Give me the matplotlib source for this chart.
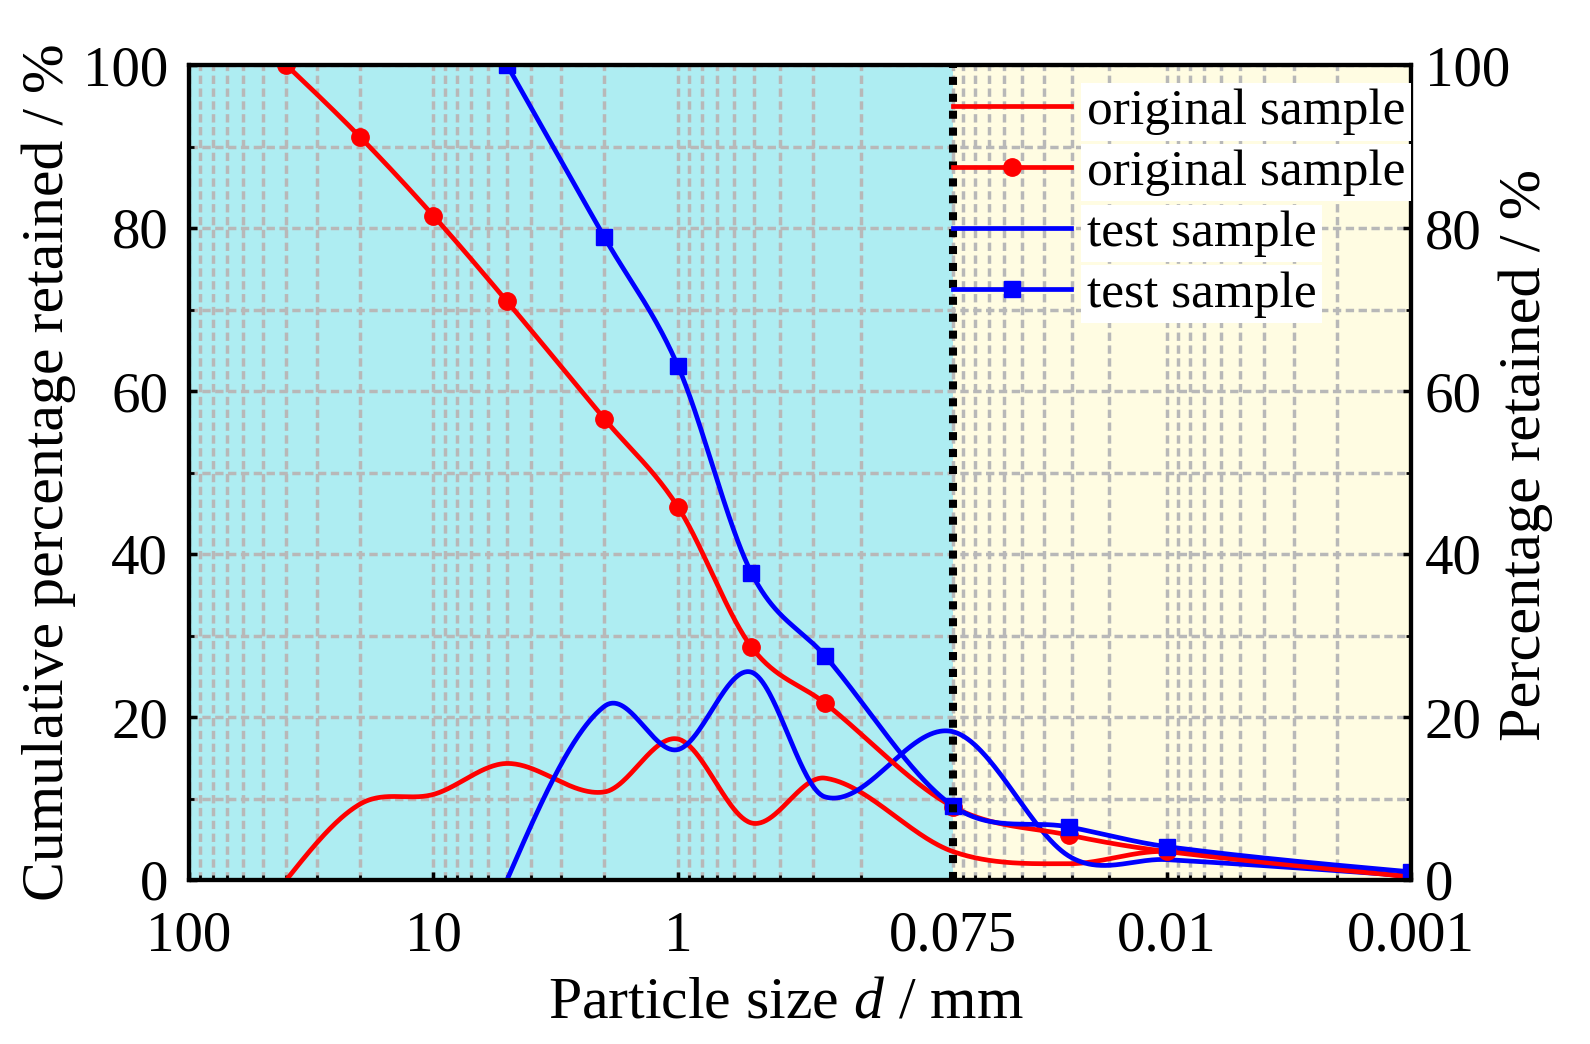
import numpy as np
import matplotlib
matplotlib.use('Agg')
import matplotlib.pyplot as plt
from matplotlib.ticker import FixedLocator, FixedFormatter, NullFormatter
from matplotlib.lines import Line2D

plt.rcParams['font.family'] = ['Liberation Serif', 'DejaVu Serif']
plt.rcParams['mathtext.fontset'] = 'custom'
plt.rcParams['mathtext.rm'] = 'Liberation Serif'
plt.rcParams['mathtext.it'] = 'Liberation Serif:italic'

# ---------------- data ----------------
orig_size = [40, 20, 10, 5, 2, 1, 0.5, 0.25, 0.075, 0.025, 0.01, 0.001]
orig_cum = [100, 91.2, 81.5, 71.0, 56.6, 45.8, 28.6, 21.7, 9.0, 5.5, 3.5, 0.4]
orig_pct = [0, 9.3, 10.5, 14.3, 10.8, 17.3, 7.0, 12.5, 3.5, 2.0, 3.5, 0.3]

test_size = [5, 2, 1, 0.5, 0.25, 0.075, 0.025, 0.01, 0.001]
test_cum = [100, 78.9, 63.1, 37.7, 27.5, 9.1, 6.5, 4.1, 1.0]
test_pct = [0, 21.3, 16.0, 25.5, 10.2, 18.2, 2.9, 2.5, 0.5]

x_major = [100, 10, 1, 0.075, 0.01, 0.001]
x_major_labels = ['100', '10', '1', '0.075', '0.01', '0.001']
y_ticks = [0, 20, 40, 60, 80, 100]
y_minor = [10, 30, 50, 70, 90]
legend_labels = ['original sample', 'original sample', 'test sample', 'test sample']


def spline_curve(t, y, tt):
    """Cubic Hermite (Catmull-Rom style) curve through the points."""
    t = np.asarray(t, float)
    y = np.asarray(y, float)
    n = len(t)
    m = np.zeros(n)
    for i in range(1, n - 1):
        m[i] = (y[i + 1] - y[i - 1]) / (t[i + 1] - t[i - 1])
    m[0] = 1.5 * (y[1] - y[0]) / (t[1] - t[0]) - 0.5 * m[1]
    m[-1] = 1.5 * (y[-1] - y[-2]) / (t[-1] - t[-2]) - 0.5 * m[-2]
    idx = np.clip(np.searchsorted(t, tt) - 1, 0, n - 2)
    h = t[idx + 1] - t[idx]
    s = (tt - t[idx]) / h
    h00 = 2 * s ** 3 - 3 * s ** 2 + 1
    h10 = s ** 3 - 2 * s ** 2 + s
    h01 = -2 * s ** 3 + 3 * s ** 2
    h11 = s ** 3 - s ** 2
    return h00 * y[idx] + h10 * h * m[idx] + h01 * y[idx + 1] + h11 * h * m[idx + 1]


def smooth(sizes, vals):
    t = -np.log10(np.asarray(sizes, float))
    tt = np.linspace(t[0], t[-1], 800)
    return 10 ** (-tt), spline_curve(t, vals, tt)


# ---------------- figure ----------------
fig = plt.figure(figsize=(15.9, 10.44), dpi=100)
ax = fig.add_axes([189 / 1590, 1 - 880 / 1044, 1222 / 1590, 815 / 1044])
ax.set_xscale('log')
ax.set_xlim(100, 0.001)
ax.set_ylim(0, 100)

cyan = '#aeedf2'
yellow = '#fffce2'
ax.axvspan(100, 0.075, facecolor=cyan, edgecolor='none', zorder=0)
ax.axvspan(0.075, 0.001, facecolor=yellow, edgecolor='none', zorder=0)

# ticks
minors = []
for a, b in zip(x_major[:-1], x_major[1:]):
    for k in range(1, 9):
        minors.append(b + k * (a - b) / 9)
ax.xaxis.set_major_locator(FixedLocator(x_major))
ax.xaxis.set_major_formatter(FixedFormatter(x_major_labels))
ax.xaxis.set_minor_locator(FixedLocator(minors))
ax.xaxis.set_minor_formatter(NullFormatter())
ax.yaxis.set_major_locator(FixedLocator(y_ticks))
ax.yaxis.set_minor_locator(FixedLocator(y_minor))

ax.set_axisbelow(True)
ax.grid(which='both', color='#b8b8b8', linestyle=(0, (2.4, 1.3)), linewidth=2.5)

ax.tick_params(axis='x', which='major', direction='in', length=6, width=2.5,
               labelsize=41, pad=22, top=False)
ax.tick_params(axis='x', which='minor', direction='in', length=3.5, width=2, top=False)
ax.tick_params(axis='y', which='major', direction='in', length=6, width=2.5,
               labelsize=41, pad=15, right=False)
ax.tick_params(axis='y', which='minor', direction='in', length=3.5, width=2, right=False)

for s in ax.spines.values():
    s.set_linewidth(3)

# curves
red = '#ff0000'
blue = '#0000ff'
lw = 3.4
xs, ys = smooth(orig_size, orig_pct)
ax.plot(xs, ys, color=red, lw=lw, zorder=3)
xs, ys = smooth(test_size, test_pct)
ax.plot(xs, ys, color=blue, lw=lw, zorder=3)
xs, ys = smooth(orig_size, orig_cum)
ax.plot(xs, ys, color=red, lw=lw, zorder=3)
ax.plot(orig_size, orig_cum, 'o', color=red, ms=12.5, zorder=4)
xs, ys = smooth(test_size, test_cum)
ax.plot(xs, ys, color=blue, lw=lw, zorder=3)
ax.plot(test_size, test_cum, 's', color=blue, ms=11.5, zorder=4)

ax.axvline(0.075, color='black', lw=5.8, linestyle=(0, (1, 1.1)),
           dash_capstyle='butt', zorder=6)

# right axis
ax2 = ax.twinx()
ax2.set_ylim(0, 100)
ax2.yaxis.set_major_locator(FixedLocator(y_ticks))
ax2.yaxis.set_minor_locator(FixedLocator(y_minor))
ax2.tick_params(axis='y', which='major', direction='in', length=6, width=2.5,
                labelsize=41, pad=10)
ax2.tick_params(axis='y', which='minor', direction='in', length=3.5, width=2)
for s in ax2.spines.values():
    s.set_linewidth(3)

# labels
ax.text(-0.1146, 0.5, 'Cumulative percentage retained / %', transform=ax.transAxes,
        rotation=90, ha='center', va='center', fontsize=43)
ax.text(1.094, 0.522, 'Percentage retained / %', transform=ax.transAxes,
        rotation=90, ha='center', va='center', fontsize=43.5)
ax.text(0.4885, -0.152, 'Particle size $d$ / mm', transform=ax.transAxes,
        ha='center', va='center', fontsize=43)

# legend
handles = [
    Line2D([], [], color=red, lw=lw),
    Line2D([], [], color=red, lw=lw, marker='o', ms=12.5),
    Line2D([], [], color=blue, lw=lw),
    Line2D([], [], color=blue, lw=lw, marker='s', ms=11.5),
]
leg = ax2.legend(handles, legend_labels, loc='upper left',
                 bbox_to_anchor=((953 - 189) / 1222, (880 - 88) / 815),
                 frameon=False, fontsize=37, borderpad=0, borderaxespad=0,
                 handlelength=2.3, handletextpad=0.3, labelspacing=0.27)
leg.set_zorder(10)
for t in leg.get_texts():
    t.set_bbox(dict(facecolor='white', edgecolor='none', pad=4))

fig.savefig('out.png', dpi=100)
